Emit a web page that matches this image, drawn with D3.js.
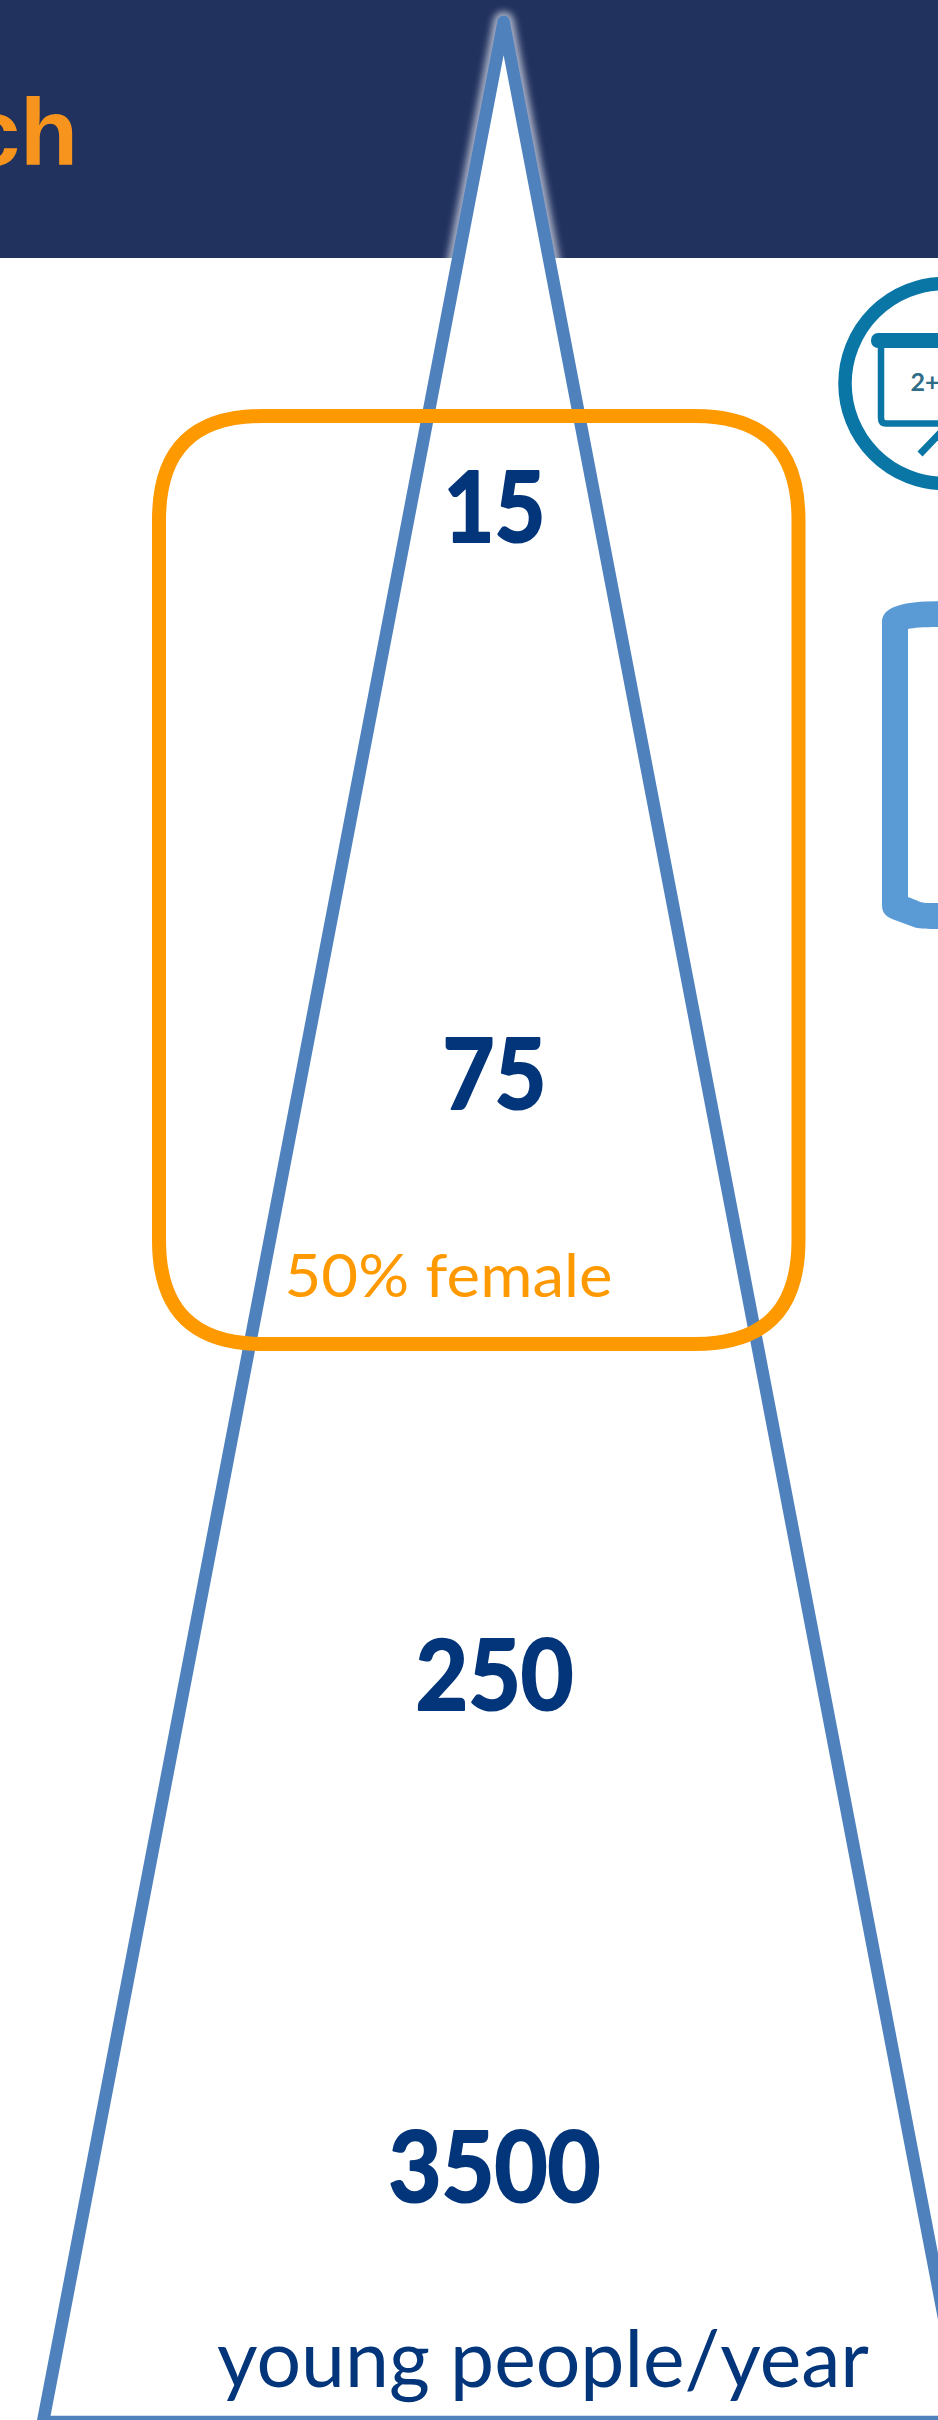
<!DOCTYPE html>
<html>
<head>
<meta charset="utf-8">
<script src="https://cdn.jsdelivr.net/npm/d3@7/dist/d3.min.js"></script>
<style>
html,body{margin:0;padding:0;background:#fff;overflow:hidden}
svg{display:block}
</style>
</head>
<body>
<div id="chart"></div>
<script>
// Pyramid tiers, top to bottom
const tiers = ["15", "75", "250", "3500"];
const unitLabel = "young people/year";
const subsetLabel = "50% female";
const titleFragment = "ch";
const iconLabel = "2+";

const W = 938, H = 2420;
const COL = {header:"#21325f", title:"#f7941e", blue:"#4f81bd", orange:"#ff9900",
             navy:"#03357a", teal:"#0a76a6", tealText:"#2f6d87", bracket:"#5b9bd5"};

// Layout scales
const yTier = d3.scaleOrdinal().domain(tiers).range([542, 1109, 1710, 2202]);
const wTier = d3.scaleOrdinal().domain(tiers).range([102, 104, 158, 212]);

const svg = d3.select("#chart").append("svg").attr("width", W).attr("height", H);
const defs = svg.append("defs");
defs.append("filter").attr("id","glow").attr("x","-20%").attr("y","-5%").attr("width","140%").attr("height","110%")
  .append("feGaussianBlur").attr("stdDeviation",3.5);
defs.append("clipPath").attr("id","hdr").append("rect").attr("width",W).attr("height",258);

// Header band
svg.append("rect").attr("width",W).attr("height",258).attr("fill",COL.header);
svg.append("text").attr("x",78).attr("y",165).attr("text-anchor","end")
  .attr("font-family","'Liberation Sans',Arial,sans-serif").attr("font-weight",700)
  .attr("font-size",95).attr("fill",COL.title).text(titleFragment);

// Pyramid
const apex = [503.6, 22], baseL = [43, 2422], baseR = [964, 2422];
const tri = d3.line().curve(d3.curveLinearClosed)([apex, baseR, baseL]);
svg.append("g").attr("clip-path","url(#hdr)").append("path").attr("d",tri)
  .attr("fill","none").attr("stroke","#aab1c6").attr("stroke-width",21)
  .attr("stroke-linejoin","round").attr("filter","url(#glow)");
svg.append("path").attr("d",tri).attr("fill","#fff").attr("stroke",COL.blue)
  .attr("stroke-width",12.5).attr("stroke-linejoin","round");

// Orange rounded frame
function squircle(x0,y0,x1,y1,R,c){
  const p = d3.path();
  p.moveTo(x0+R,y0); p.lineTo(x1-R,y0);
  p.bezierCurveTo(x1-c,y0,x1,y0+c,x1,y0+R);
  p.lineTo(x1,y1-R);
  p.bezierCurveTo(x1,y1-c,x1-c,y1,x1-R,y1);
  p.lineTo(x0+R,y1);
  p.bezierCurveTo(x0+c,y1,x0,y1-c,x0,y1-R);
  p.lineTo(x0,y0+R);
  p.bezierCurveTo(x0,y0+c,x0+c,y0,x0+R,y0);
  p.closePath();
  return p.toString();
}
svg.append("path").attr("d",squircle(159,416,798.5,1344,104,34))
  .attr("fill","none").attr("stroke",COL.orange).attr("stroke-width",14);

// Tier numbers
svg.append("g").selectAll("text").data(tiers).join("text")
  .attr("x",494.5).attr("y",d=>yTier(d)).attr("text-anchor","middle")
  .attr("font-family","Lato,sans-serif").attr("font-weight",700).attr("font-size",98)
  .attr("fill",COL.navy).attr("stroke",COL.navy).attr("stroke-width",2.2).attr("stroke-linejoin","round")
  .attr("textLength",d=>wTier(d)).attr("lengthAdjust","spacingAndGlyphs")
  .text(d=>d);

svg.append("text").attr("x",448.5).attr("y",1297).attr("text-anchor","middle")
  .attr("font-family","Lato,sans-serif").attr("font-size",60).attr("fill",COL.orange)
  .attr("textLength",328).attr("lengthAdjust","spacingAndGlyphs").text(subsetLabel);

svg.append("text").attr("x",543).attr("y",2387).attr("text-anchor","middle")
  .attr("font-family","Lato,sans-serif").attr("font-size",80).attr("fill",COL.navy)
  .attr("textLength",652).attr("lengthAdjust","spacingAndGlyphs").text(unitLabel);

// Presentation icon, cut by the right edge
const icon = svg.append("g");
icon.append("circle").attr("cx",945).attr("cy",383.5).attr("r",100)
  .attr("fill","#fff").attr("stroke",COL.teal).attr("stroke-width",13.5);
icon.append("rect").attr("x",871).attr("y",333).attr("width",90).attr("height",15).attr("rx",7)
  .attr("fill",COL.teal);
icon.append("path").attr("d","M881,345V418Q881,423.5 886,423.5H960")
  .attr("fill","none").attr("stroke",COL.teal).attr("stroke-width",6.5);
icon.append("line").attr("x1",920).attr("y1",454).attr("x2",945).attr("y2",428)
  .attr("stroke",COL.teal).attr("stroke-width",7);
icon.append("text").attr("x",910.5).attr("y",391)
  .attr("font-family","Lato,sans-serif").attr("font-weight",700).attr("font-size",25)
  .attr("fill",COL.tealText).text(iconLabel);

// Blue bracket, cut by the right edge
const br = d3.path();
br.moveTo(945,601); br.lineTo(925,601.5);
br.bezierCurveTo(900,603,882,608,882,622);
br.lineTo(882,905);
br.bezierCurveTo(882,912,885,916,892,919);
br.lineTo(915,927.5);
br.bezierCurveTo(922,929,930,929,945,929);
br.lineTo(945,903); br.lineTo(928,903);
br.bezierCurveTo(922,903,920,902,917,900.5);
br.lineTo(908,897); br.lineTo(908,629);
br.bezierCurveTo(915,627.5,925,627,945,627);
br.closePath();
svg.append("path").attr("d",br.toString()).attr("fill",COL.bracket);
</script>
</body>
</html>
